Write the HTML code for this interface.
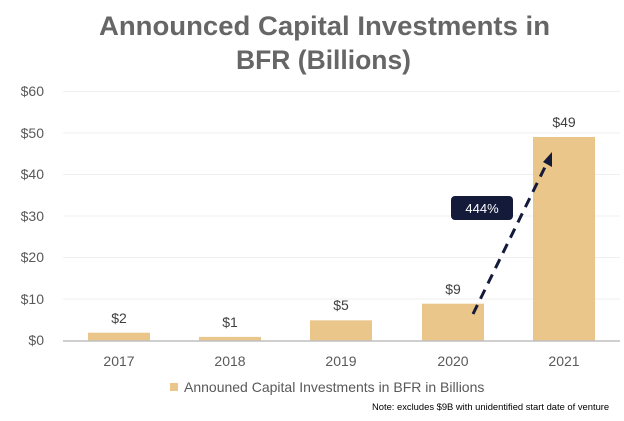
<!DOCTYPE html>
<html><head><meta charset="utf-8"><style>
body{margin:0;width:624px;height:416px;background:#fff;overflow:hidden;font-family:"Liberation Sans",sans-serif}
</style></head><body>
<svg width="624" height="416" xmlns="http://www.w3.org/2000/svg" font-family="Liberation Sans, sans-serif">
<text x="99" y="35" font-size="27" font-weight="bold" fill="#666" textLength="451" lengthAdjust="spacingAndGlyphs">Announced Capital Investments in</text>
<text x="236" y="69" font-size="27" font-weight="bold" fill="#666" textLength="175" lengthAdjust="spacingAndGlyphs">BFR (Billions)</text>
<g stroke="#efefef" stroke-width="1">
<line x1="63" x2="620" y1="91.5" y2="91.5"/><line x1="63" x2="620" y1="133" y2="133"/><line x1="63" x2="620" y1="174.5" y2="174.5"/><line x1="63" x2="620" y1="216" y2="216"/><line x1="63" x2="620" y1="257.5" y2="257.5"/><line x1="63" x2="620" y1="299" y2="299"/>
</g>
<g font-size="14" fill="#595959" text-anchor="end">
<text x="44" y="96">$60</text><text x="44" y="138">$50</text><text x="44" y="179">$40</text><text x="44" y="221">$30</text><text x="44" y="262">$20</text><text x="44" y="304">$10</text><text x="44" y="345">$0</text>
</g>
<g fill="#ebc68a">
<rect x="88" y="332.7" width="62" height="8.3"/>
<rect x="199" y="336.9" width="62" height="4.1"/>
<rect x="310" y="320.3" width="62" height="20.7"/>
<rect x="422" y="303.7" width="62" height="37.3"/>
<rect x="533" y="137" width="62" height="204"/>
</g>
<line x1="63" x2="620" y1="341" y2="341" stroke="#bfbfbf" stroke-width="1.5"/>
<g font-size="14" fill="#404040" text-anchor="middle">
<text x="119" y="323">$2</text><text x="230" y="327">$1</text><text x="341" y="310">$5</text><text x="453" y="294">$9</text><text x="564" y="127">$49</text>
</g>
<g font-size="14" fill="#595959" text-anchor="middle">
<text x="119" y="366">2017</text><text x="230" y="366">2018</text><text x="341" y="366">2019</text><text x="453" y="366">2020</text><text x="564" y="366">2021</text>
</g>
<line x1="473" y1="314" x2="546" y2="165" stroke="#141a3a" stroke-width="3" stroke-dasharray="10,7"/>
<polygon points="552,152 543,162 552,167" fill="#141a3a"/>
<rect x="451" y="196" width="62" height="24" rx="4" fill="#141a3a"/>
<text x="482" y="213" text-anchor="middle" font-size="13" fill="#fff">444%</text>
<rect x="170" y="383" width="8" height="8" fill="#ebc68a"/>
<text x="184" y="392" font-size="14" fill="#595959">Announed Capital Investments in BFR in Billions</text>
<text x="372" y="410" font-size="9.4" fill="#000">Note: excludes $9B with unidentified start date of venture</text>
</svg>
</body></html>
